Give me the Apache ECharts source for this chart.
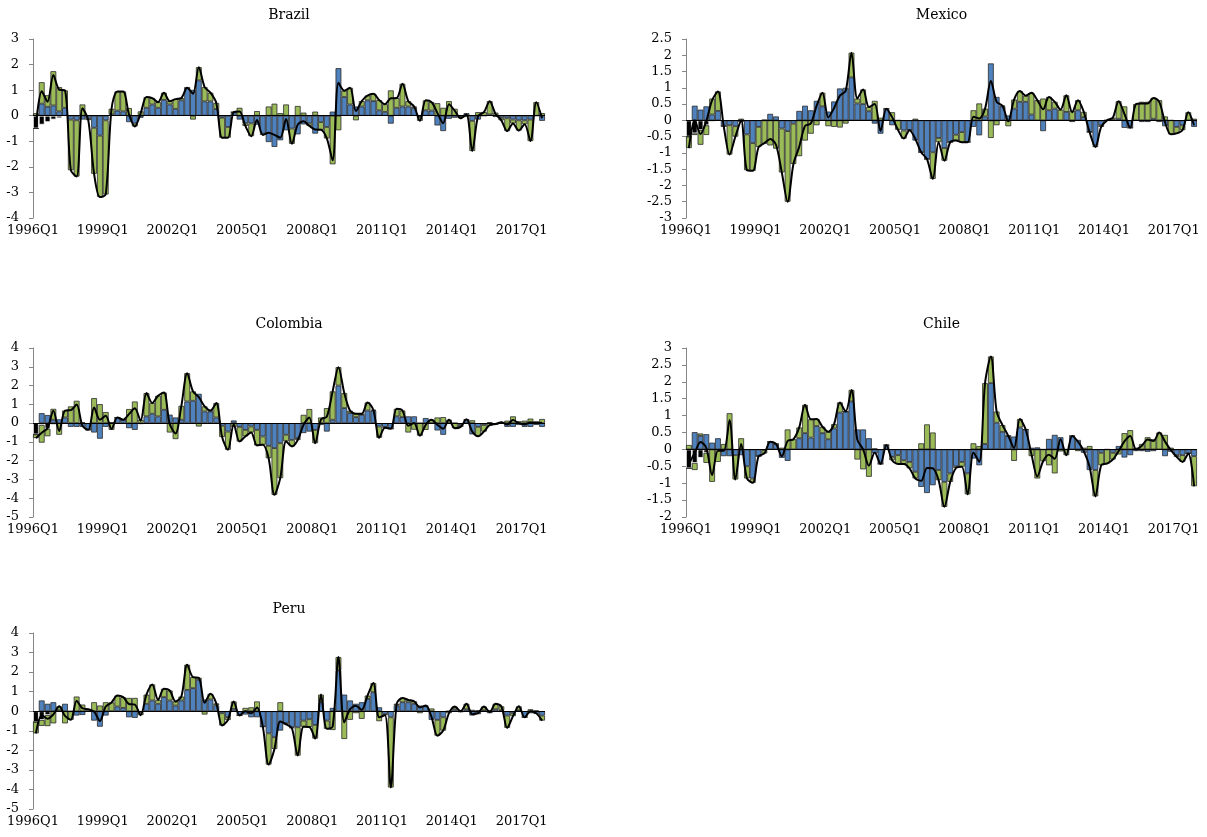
<!DOCTYPE html>
<html>
<head>
<meta charset="utf-8">
<script src="https://cdn.jsdelivr.net/npm/echarts@6/dist/echarts.min.js"></script>
<style>
  html, body { margin: 0; padding: 0; background: #fff; }
  #chart { width: 1207px; height: 837px; }
</style>
</head>
<body>
<div id="chart"></div>
<script>
// Quarterly categories 1996Q1 .. 2017Q4
const quarters = [];
for (let y = 1996; y <= 2017; y++) {
  for (let q = 1; q <= 4; q++) quarters.push(y + 'Q' + q);
}

// ---- Brazil ----
const brazilBlue = [0,0.47,0.35,0.4,0.17,0.31,-0.15,-0.18,-0.15,-0.12,-0.47,-0.78,-0.18,0.05,0.2,0.17,-0.25,-0.3,-0.08,0.31,0.44,0.31,0.62,0.44,0.27,0.6,1.09,1.01,1.38,0.56,0.56,0.26,-0.08,-0.44,0.14,-0.15,-0.3,-0.3,-0.35,-0.7,-1.03,-1.22,-0.96,-0.57,-0.5,-0.73,-0.34,-0.3,-0.7,-0.25,-0.44,0.16,1.86,0.73,0.44,0.36,0.36,0.6,0.57,0.21,0.15,-0.31,0.31,0.36,0.36,0.31,-0.05,0.21,0.2,-0.38,-0.6,-0.12,-0.08,-0.05,0.1,-0.2,-0.15,0,0.05,-0.05,-0.08,-0.1,-0.15,-0.18,-0.18,-0.15,0,-0.2];
const brazilGreen = [0.1,0.84,0.45,1.34,0.95,0.68,-1.98,-2.2,0.44,-0.05,-1.8,-2.4,-2.9,0.22,0.75,0.78,0.3,-0.12,0.17,0.42,0.25,0.22,0.28,0.13,0.38,0.09,0,-0.15,0.52,0.56,0.34,0.24,-0.78,-0.42,0,0.31,-0.1,-0.5,0.18,-0.05,0.36,0.47,0.1,0.44,-0.6,0.38,0.12,-0.1,0.16,-0.3,-0.45,-1.9,-0.57,0.25,0.65,-0.18,0.21,0.19,0.29,0.4,0.3,0.99,0.38,0.89,0.21,0.05,-0.15,0.39,0.33,0.49,0.31,0.57,0.27,-0.05,-0.05,-1.18,0.14,0.14,0.52,0.12,-0.1,-0.5,-0.15,-0.4,-0.15,-0.84,0.53,0.1];
const brazilBlack = [-0.5,-0.35,-0.25,-0.15,-0.1];

// ---- Mexico ----
const mexicoBlue = [0,0.45,0.33,0.43,0.18,0.29,-0.18,-0.15,-0.18,-0.05,-0.43,-0.7,-0.2,0.02,0.2,0.12,-0.25,-0.33,-0.1,0.29,0.45,0.31,0.6,0.43,0.27,0.58,0.98,1.0,1.32,0.52,0.5,0.28,-0.1,-0.41,0.36,-0.15,0,-0.31,-0.3,-0.62,-0.98,-1.19,-0.98,-0.54,-0.85,-0.67,-0.44,-0.36,-0.67,-0.2,-0.46,0.12,1.75,0.72,0.43,0.15,0.36,0.57,0.57,0.18,0,-0.33,0.31,0.36,0,0.26,-0.05,0.31,0.1,-0.36,-0.77,-0.15,0,0.02,0.05,-0.23,-0.23,0,-0.05,-0.05,0.05,-0.05,-0.18,0,-0.2,-0.15,0,-0.2];
const mexicoGreen = [-0.35,-0.05,-0.45,-0.3,0.49,0.6,0,-0.9,-0.32,0.05,-1.1,-0.85,-0.62,-0.72,-0.77,-0.87,-1.35,-2.17,-1.24,-1.1,-0.62,-0.41,-0.15,0.42,-0.18,-0.2,-0.22,-0.1,0.76,0.15,0.45,0.13,0.6,0.08,0,0.25,-0.29,-0.25,0,0.05,0,0,-0.82,-0.13,-0.39,0,-0.18,-0.31,0,0.31,0.52,0.24,-0.54,-0.15,0.02,-0.18,0.28,0.33,0.19,0.67,0.62,0.67,0.41,0.21,0.33,0.51,0.3,0.31,0.16,0,-0.05,-0.05,0,0.06,0.54,0.43,0,0.5,0.57,0.57,0.64,0.62,0.12,-0.43,-0.2,-0.15,0.25,0.05];
const mexicoBlack = [-0.5,-0.4,-0.3,-0.15,-0.05];

// ---- Colombia ----
const colombiaBlue = [0,0.53,0.43,0.18,0.2,0.3,-0.2,-0.2,-0.2,-0.36,-0.5,-0.83,-0.2,0.05,0.3,0.18,-0.27,-0.36,-0.05,0.36,0.5,0.36,0.71,0.45,0.3,0.18,1.15,1.19,1.56,0.62,0.62,0.3,-0.14,-0.45,0.14,-0.2,-0.36,-0.18,-0.36,-0.71,-1.21,-1.33,-1.07,-0.62,-0.89,-0.8,-0.53,-0.45,-0.36,-0.1,-0.45,0.18,2.0,0.8,0.53,0.32,0.44,0.67,0.67,-0.18,-0.2,-0.3,0.36,0.32,0.36,0.36,0,0.27,0,-0.39,-0.62,0,0,-0.1,0.18,-0.6,-0.2,-0.1,0.05,-0.05,0,-0.2,-0.2,-0.1,-0.2,-0.2,-0.1,-0.2];
const colombiaGreen = [-0.2,-0.94,-0.4,0.58,-0.62,0.37,0.89,1.19,0.05,0,1.33,1.01,0.59,-0.36,0,0,0.75,1.15,0.18,1.24,0.57,1.1,0.92,-0.5,-0.85,0.74,1.51,0.5,-0.18,0.27,0.05,0.77,-0.6,-0.97,-0.2,-0.78,-0.35,-0.32,-0.83,-0.44,-0.66,-2.49,-1.86,-0.35,-0.35,-0.1,0.44,0.75,-0.71,0.3,0.8,1.51,0.98,0.8,0.13,0.18,0.06,0.43,0.03,-0.6,-0.05,0,0.4,0.35,-0.5,-0.35,-0.67,-0.36,0.18,0.3,0.32,0.18,-0.27,-0.1,0.02,0.15,-0.5,-0.35,-0.15,0,0.05,0.13,0.36,0.1,0.13,0.24,0.1,0.22];
const colombiaBlack = [-0.6,-0.1,-0.3,-0.1];

// ---- Chile ----
const chileBlue = [0,0.51,0.4,0.45,0.2,0.33,-0.2,-0.2,-0.17,-0.17,-0.5,-0.86,-0.2,-0.02,0.23,0.16,-0.25,-0.34,0,0.33,0.48,0.35,0.69,0.48,0.3,0.62,1.09,1.12,1.42,0.59,0.59,0.33,-0.12,-0.43,0.13,-0.22,-0.17,-0.32,-0.37,-0.66,-1.11,-1.29,-1.06,-0.61,-0.96,-0.71,-0.5,-0.37,-0.71,-0.27,-0.47,0.16,1.96,0.79,0.52,0.4,0.38,0.65,0.59,0.05,0.06,0,0.31,0.43,0.36,0,0.4,0.28,-0.1,-0.61,-0.61,-0.1,0,-0.1,0.1,-0.24,-0.17,-0.05,-0.05,-0.07,-0.05,0,-0.2,-0.07,-0.17,-0.17,-0.12,-0.2];
const chileGreen = [0.13,-0.21,0.07,-0.3,-0.96,-0.37,0.16,1.07,-0.72,0.33,-0.36,-0.13,0,-0.1,0,0,0.05,0.59,0.3,0.32,0.84,0.54,0.21,0.19,0.22,0.13,0.3,0,0.34,-0.3,-0.59,-0.81,0.03,0,0,-0.1,-0.26,-0.11,-0.19,-0.2,0.18,0.74,0.5,-0.3,-0.74,-0.25,-0.05,-0.14,-0.62,0.18,0.1,1.8,0.79,0.33,0.2,0,-0.34,0.25,0,-0.2,-0.86,-0.35,-0.47,-0.71,-0.06,-0.17,0,-0.05,0.05,0.1,-0.78,-0.37,-0.42,-0.2,-0.15,0.48,0.57,0.05,0.16,0.36,0.3,0.5,0.43,0.05,-0.05,-0.2,0,-0.89];
const chileBlack = [-0.56,-0.4,-0.25,-0.1];

// ---- Peru ----
const peruBlue = [0,0.55,0.38,0.46,0.05,0.38,0,-0.22,-0.19,0,-0.48,-0.79,-0.22,0,0.24,0.17,-0.31,-0.34,-0.05,0.38,0.55,0.38,0.72,0.55,0.29,0.55,1.09,1.18,1.6,0.6,0.6,0.3,-0.1,-0.3,0.12,-0.22,-0.17,-0.31,-0.31,-0.79,-1.13,-1.33,-0.99,-0.62,-0.82,-0.82,-0.48,-0.41,-0.7,0.46,-0.48,0.17,2.09,0.85,0.55,0.38,0.46,0.63,0.97,0.2,-0.15,-0.31,0.3,0.46,0.46,0.38,0.29,0.25,-0.44,-0.44,-0.31,0,0.1,-0.05,0.1,-0.22,-0.15,0.05,-0.1,0.1,0.05,-0.22,-0.1,0.05,-0.31,-0.1,-0.14,-0.22];
const peruGreen = [-0.58,-0.3,-0.56,-0.62,0.2,-0.62,-0.44,0.75,0.34,0.1,0.46,0.29,0.46,0.45,0.56,0.55,0.68,0.68,-0.15,0.47,0.82,0.2,0.43,0.51,0.21,0.2,1.29,0.56,0.11,-0.17,0.29,0.1,-0.63,-0.15,0.38,0,0.17,0.2,0.5,0,-1.6,-0.6,0.46,-0.05,-0.05,-1.45,-0.31,-0.4,-0.7,0.39,-0.42,-0.96,0.68,-1.42,-0.44,-0.1,-0.39,0.17,0.47,-0.51,-0.05,-3.59,0.08,0.22,0.12,0.13,-0.1,0.04,0.14,-0.81,-0.68,-0.1,0.14,0.05,0.28,0.07,0.05,0.19,0.05,0.28,0.2,-0.63,-0.15,0.2,0,0.1,0.04,-0.26];
const peruBlack = [-0.55,-0.45,-0.2];

const panels = [
  { name: 'Brazil',   blue: brazilBlue,   green: brazilGreen,   black: brazilBlack,   min: -4, max: 3,   step: 1,   box: { left: 33,  top: 39,  width: 512, height: 179 } },
  { name: 'Mexico',   blue: mexicoBlue,   green: mexicoGreen,   black: mexicoBlack,   min: -3, max: 2.5, step: 0.5, box: { left: 686, top: 39,  width: 511, height: 179 } },
  { name: 'Colombia', blue: colombiaBlue, green: colombiaGreen, black: colombiaBlack, min: -5, max: 4,   step: 1,   box: { left: 33,  top: 348, width: 512, height: 169 } },
  { name: 'Chile',    blue: chileBlue,    green: chileGreen,    black: chileBlack,    min: -2, max: 3,   step: 0.5, box: { left: 686, top: 348, width: 511, height: 169 } },
  { name: 'Peru',     blue: peruBlue,     green: peruGreen,     black: peruBlack,     min: -5, max: 4,   step: 1,   box: { left: 33,  top: 633, width: 512, height: 176 } }
];

const FONT = 'DejaVu Serif';
const grids = [], xAxes = [], yAxes = [], series = [], graphics = [];

panels.forEach((p, i) => {
  grids.push(Object.assign({ containLabel: false }, p.box));
  xAxes.push({
    type: 'category', gridIndex: i, data: quarters, boundaryGap: true,
    axisLine: { show: false }, axisTick: { show: false },
    axisLabel: { interval: 11, margin: 6, fontFamily: FONT, fontSize: 13, color: '#000', padding: [0, 6, 0, 0] },
    splitLine: { show: false }
  });
  yAxes.push({
    type: 'value', gridIndex: i, min: p.min, max: p.max, interval: p.step,
    axisLine: { show: true, lineStyle: { color: '#868686', width: 1 } },
    axisTick: { show: true, length: 4, lineStyle: { color: '#868686' } },
    axisLabel: { margin: 14, fontFamily: FONT, fontSize: 13, color: '#000' },
    splitLine: { show: false }
  });

  const blk = quarters.map((_, k) => (k < p.black.length ? p.black[k] : 0));
  const total = quarters.map((_, k) => +(blk[k] + p.blue[k] + p.green[k]).toFixed(3));
  const barBase = {
    type: 'bar', xAxisIndex: i, yAxisIndex: i, stack: 'c' + i,
    barCategoryGap: '0%', animation: false
  };
  // narrow dark stubs of the residual component in the first quarters
  series.push(Object.assign({}, barBase, {
    name: p.name + ' other', data: blk,
    itemStyle: { color: '#000', borderColor: '#fff', borderWidth: 0.8 }
  }));
  series.push(Object.assign({}, barBase, {
    name: p.name + ' blue', data: p.blue,
    itemStyle: { color: '#4F81BD', borderColor: '#2a2a2a', borderWidth: 0.8 }
  }));
  series.push(Object.assign({}, barBase, {
    name: p.name + ' green', data: p.green,
    itemStyle: { color: '#9BBB59', borderColor: '#2a2a2a', borderWidth: 0.8 }
  }));
  series.push({
    type: 'line', xAxisIndex: i, yAxisIndex: i, data: total, z: 5,
    smooth: 0.3, showSymbol: false, symbol: 'none', animation: false,
    lineStyle: { color: '#000', width: 2 },
    markLine: {
      silent: true, symbol: 'none', animation: false,
      label: { show: false },
      lineStyle: { color: '#000', width: 1, type: 'solid' },
      data: [{ yAxis: 0 }]
    }
  });

  // panel title centred over its plot
  graphics.push({
    type: 'text', x: p.box.left + p.box.width / 2, y: p.box.top - 24,
    style: { text: p.name, font: '14px "' + FONT + '"', fill: '#000', align: 'center', verticalAlign: 'middle' }
  });
});

const chart = echarts.init(document.getElementById('chart'), null, { renderer: 'canvas' });
chart.setOption({
  animation: false,
  backgroundColor: '#fff',
  grid: grids, xAxis: xAxes, yAxis: yAxes, series: series,
  graphic: graphics
});
</script>
</body>
</html>
